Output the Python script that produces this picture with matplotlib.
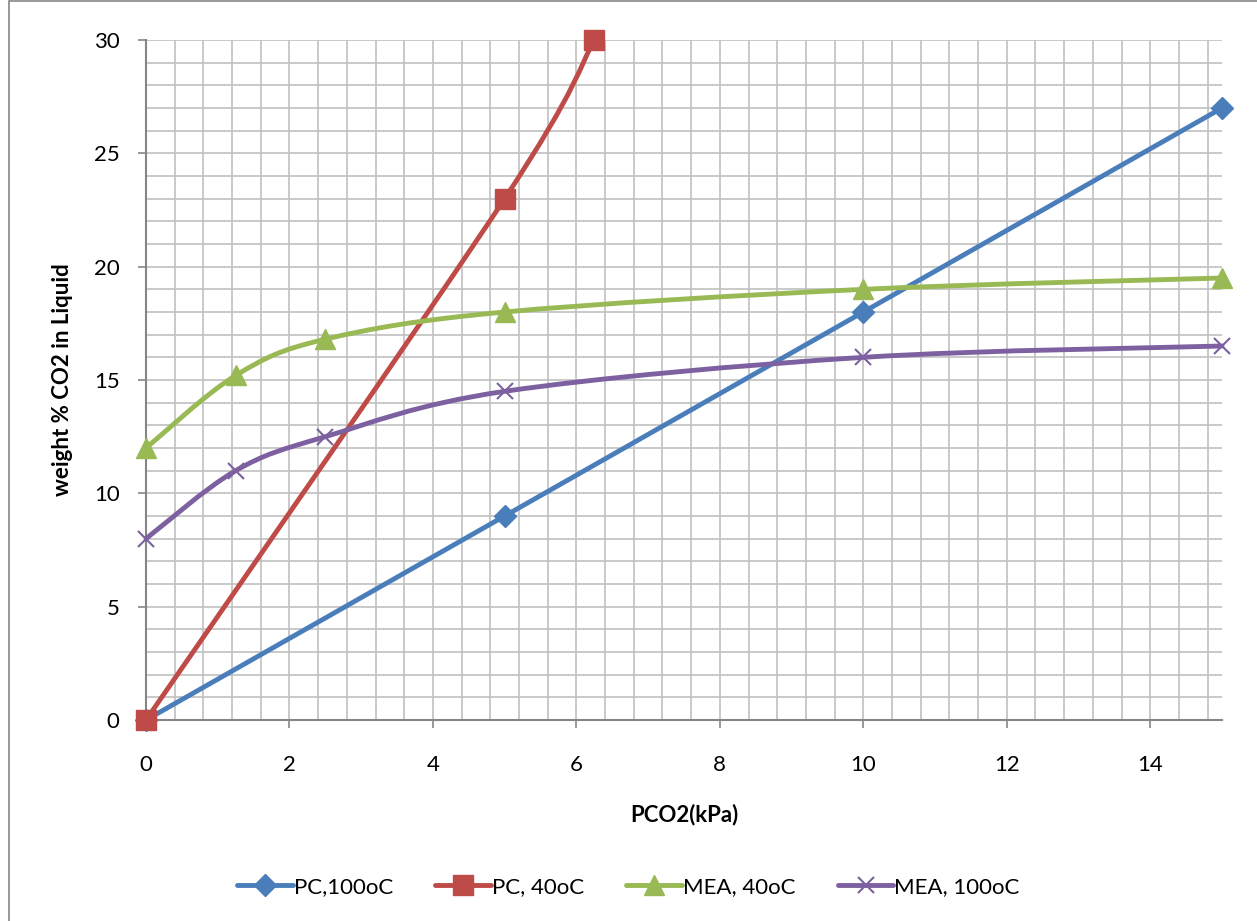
import numpy as np
import matplotlib
matplotlib.use('Agg')
import matplotlib.pyplot as plt
from matplotlib.path import Path
from matplotlib.patches import PathPatch, Rectangle
from matplotlib.lines import Line2D

plt.rcParams['font.family'] = ['Lato', 'DejaVu Sans']

# Data
pc100_x = [0, 5, 10, 15]
pc100_y = [0, 9, 18, 27]
pc40_x = [0, 5, 6.25]
pc40_y = [0, 23, 30]
mea40_x = [0, 1.25, 2.5, 5, 10, 15]
mea40_y = [12, 15.2, 16.8, 18, 19, 19.5]
mea100_x = [0, 1.25, 2.5, 5, 10, 15]
mea100_y = [8, 11, 12.5, 14.5, 16, 16.5]

labels = ['PC,100oC', 'PC, 40oC', 'MEA, 40oC', 'MEA, 100oC']
colors = ['#4a7ebb', '#be4b48', '#98b954', '#7d60a0']


def smooth_path(xs, ys):
    # Excel style smoothed line: Catmull-Rom through the points as cubic Beziers
    p = np.column_stack([xs, ys]).astype(float)
    n = len(p)
    verts = [p[0]]
    codes = [Path.MOVETO]
    for i in range(n - 1):
        prev = p[max(i - 1, 0)]
        nxt = p[min(i + 2, n - 1)]
        c1 = p[i] + (p[i + 1] - prev) / 6.0
        c2 = p[i + 1] - (nxt - p[i]) / 6.0
        verts += [c1, c2, p[i + 1]]
        codes += [Path.CURVE4] * 3
    return Path(verts, codes)


fig = plt.figure(figsize=(12.57, 9.21), dpi=100)
fig.patches.append(Rectangle((9 / 1257, -0.01), 1.1, 1 - 1 / 921 + 0.01, transform=fig.transFigure,
                             fill=False, edgecolor='#868686', lw=1.2, zorder=0))
ax = fig.add_axes([146 / 1257, 1 - 720 / 921, 1076 / 1257, 680 / 921])

ax.set_xlim(0, 15)
ax.set_ylim(0, 30)
ax.set_xticks(np.arange(0, 15, 2))
ax.set_yticks(np.arange(0, 31, 5))
ax.set_xticks(np.arange(0, 15, 0.4), minor=True)
ax.set_yticks(np.arange(0, 31, 1), minor=True)
ax.grid(which='both', color='#c0c0c0', lw=1.2, zorder=0)
ax.tick_params(which='minor', length=0)
ax.tick_params(which='major', length=6, width=1.2, color='#868686', labelsize=16)
ax.tick_params(axis='y', pad=13)
ax.tick_params(axis='x', pad=19)
for s in ['top', 'right']:
    ax.spines[s].set_visible(False)
for s in ['left', 'bottom']:
    ax.spines[s].set_color('#868686')
    ax.spines[s].set_linewidth(1.5)
ax.set_axisbelow(True)

series = [
    (pc100_x, pc100_y, 'D', 11, 1.0),
    (pc40_x, pc40_y, 's', 14, 1.0),
    (mea40_x, mea40_y, '^', 14, 1.0),
    (mea100_x, mea100_y, 'x', 12, 1.5),
]
handles = []
for (xs, ys, mk, ms, mew), col, lab in zip(series, colors, labels):
    ax.add_patch(PathPatch(smooth_path(xs, ys), fill=False, edgecolor=col, lw=3.5,
                           capstyle='round', joinstyle='round', zorder=3, clip_on=False))
    ax.plot(xs, ys, ls='none', marker=mk, ms=ms, color=col, mew=mew, zorder=4, clip_on=False)
    handles.append(Line2D([], [], color=col, lw=3.5, marker=mk, ms=ms, mew=mew,
                          solid_capstyle='round'))

ax.set_xlabel('PCO2(kPa)', fontsize=16, fontweight='bold', labelpad=21)
ax.set_ylabel('weight % CO2 in Liquid', fontsize=16, fontweight='bold', labelpad=15)

fig.legend(handles, labels, loc='center', bbox_to_anchor=(0.5, 1 - 887 / 921), ncol=4,
           frameon=False, fontsize=16, handlelength=2.5, handletextpad=0.05, columnspacing=1.9)

fig.savefig('out.png', dpi=100)
